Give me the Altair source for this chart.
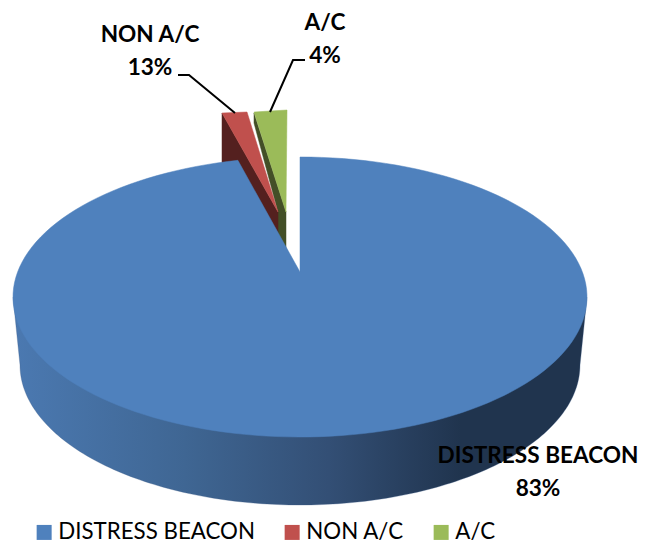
import math
import altair as alt
import pandas as pd

categories = ["DISTRESS BEACON", "NON A/C", "A/C"]
shares = [83, 13, 4]
colors = ["#4F81BD", "#C0504D", "#9BBB59"]

FONT = "Lato"
X_DOM = [8, 640]
Y_DOM = [8, 543]
x_scale = alt.Scale(domain=X_DOM, nice=False, zero=False)
y_scale = alt.Scale(domain=Y_DOM, nice=False, zero=False, reverse=True)


def ellipse(cx, cy, rx, ry, a0, a1, n=160):
    out = []
    for i in range(n + 1):
        t = math.radians(a0 + (a1 - a0) * i / n)
        out.append((cx + rx * math.sin(t), cy - ry * math.cos(t)))
    return out


def shape(points, **mark):
    df = pd.DataFrame(points, columns=["x", "y"])
    df["i"] = range(len(df))
    return alt.Chart(df).mark_line(**mark).encode(
        x=alt.X("x:Q", scale=x_scale, axis=None),
        y=alt.Y("y:Q", scale=y_scale, axis=None),
        order="i:Q",
    )


def solid(points, color):
    return shape(points + points[:1], fill=color, stroke=color, strokeWidth=0.5)


wall_fill = alt.Gradient(
    gradient="linear", x1=0, x2=1, y1=0, y2=0,
    stops=[
        alt.GradientStop(color="#4B79B1", offset=0),
        alt.GradientStop(color="#3F6693", offset=0.3),
        alt.GradientStop(color="#334F75", offset=0.55),
        alt.GradientStop(color="#20344E", offset=0.78),
        alt.GradientStop(color="#20344E", offset=1),
    ],
)
wall_pts = [(13, 297)] + ellipse(300, 365, 280, 140, 270, 90) + [(587, 297)]
wall = shape(wall_pts + wall_pts[:1], fill=wall_fill, stroke="#3A5A85", strokeWidth=0.3)

blue_top = [(300, 272)] + ellipse(300, 297, 287, 140, 0, 347.5)

layers = [
    solid([(254, 113), (254, 123), (278, 212), (278, 236), (286, 252), (286, 212)], "#434F27"),
    solid([(254, 112), (287, 110), (286, 212)], colors[2]),
    solid([(222, 113), (278, 212), (278, 240), (222, 165)], "#54201F"),
    solid([(222, 113), (247, 112), (278, 212)], colors[1]),
    wall,
    solid(blue_top, colors[0]),
    shape([(178, 75), (189, 75), (235, 113)], color="black", strokeWidth=2),
    shape([(305, 60), (293, 60), (270, 112)], color="black", strokeWidth=2),
]

labels = pd.DataFrame({
    "label": [f"{c}\n{s}%" for c, s in zip(categories, shares)],
    "x": [538, 150, 325],
    "y": [456, 35, 23],
})
text = alt.Chart(labels).mark_text(
    font=FONT, fontWeight="bold", fontSize=22.6, lineBreak="\n", lineHeight=33,
    align="center", baseline="middle", color="black",
).encode(
    x=alt.X("x:Q", scale=x_scale, axis=None),
    y=alt.Y("y:Q", scale=y_scale, axis=None),
    text="label:N",
)

legend_df = pd.DataFrame({"category": categories})
legend_layer = alt.Chart(legend_df).mark_square(size=0).encode(
    x=alt.value(0), y=alt.value(0),
    color=alt.Color(
        "category:N",
        scale=alt.Scale(domain=categories, range=colors),
        legend=alt.Legend(
            orient="none", legendX=25, legendY=513, direction="horizontal", title=None,
            symbolType="square", symbolSize=225, symbolStrokeWidth=0, symbolOpacity=1,
            labelFont=FONT, labelFontSize=22.3, labelColor="black", labelOffset=3,
            columnPadding=26, labelLimit=300, padding=0,
        ),
    ),
)

chart = alt.layer(*layers, text, legend_layer).properties(
    width=632, height=535, padding=0, autosize=alt.AutoSizeParams(type="none")
).configure_view(stroke=None).resolve_scale(color="independent")

chart.save("out.html", embed_options={"renderer": "svg", "actions": False})
